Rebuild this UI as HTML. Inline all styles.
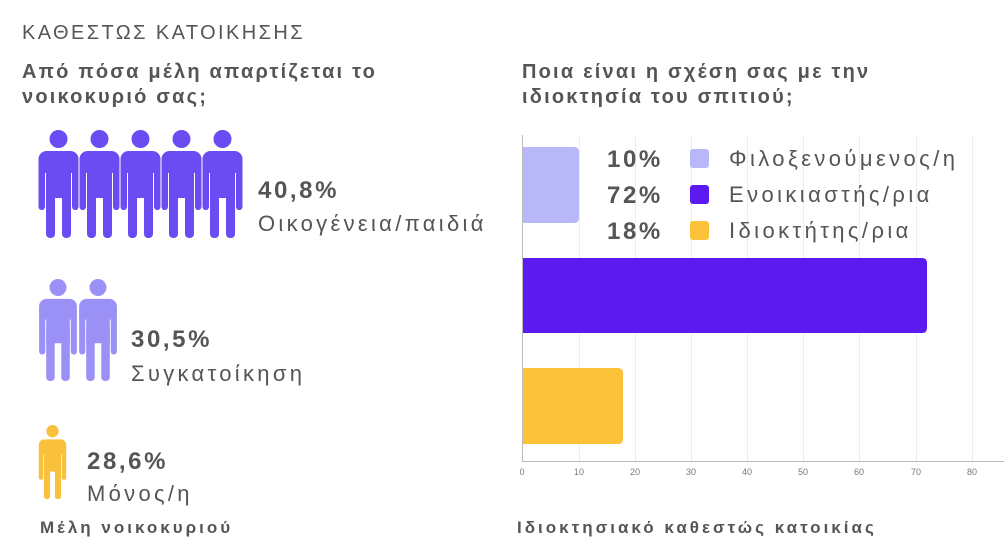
<!DOCTYPE html>
<html><head><meta charset="utf-8"><style>
body{margin:0;width:1004px;height:549px;background:#fff;position:relative;overflow:hidden;font-family:"Liberation Sans","DejaVu Sans",sans-serif;color:#555}
.a{position:absolute;white-space:nowrap}
.h{font-weight:900;font-size:20px;letter-spacing:2.2px;line-height:25px;color:#555}
.pct{font-weight:900;font-size:24px;letter-spacing:2.6px;color:#555}
.lab{font-size:22px;letter-spacing:3.3px;color:#555}
</style></head><body>
<svg width="0" height="0" style="position:absolute">
<defs>
<symbol id="p" viewBox="0 0 40 108">
<circle cx="20" cy="9" r="9"/>
<rect x="0" y="21" width="40" height="22" rx="8"/>
<rect x="0" y="30" width="6.5" height="50" rx="3.2"/>
<rect x="33.5" y="30" width="6.5" height="50" rx="3.2"/>
<rect x="7.5" y="30" width="25" height="38"/>
<rect x="7.5" y="50" width="9" height="58" rx="4"/>
<rect x="23.5" y="50" width="9" height="58" rx="4"/>
</symbol>
</defs></svg>
<div class="a" style="left:22px;top:22px;font-size:20px;letter-spacing:2.4px;color:#555">ΚΑΘΕΣΤΩΣ ΚΑΤΟΙΚΗΣΗΣ</div>
<div class="a h" style="left:22px;top:60px">Από πόσα μέλη απαρτίζεται το<br>νοικοκυριό σας;</div>
<div class="a h" style="left:522px;top:60px">Ποια είναι η σχέση σας με την<br>ιδιοκτησία του σπιτιού;</div>
<svg class="a" style="left:38px;top:130px" width="210" height="110" fill="#6a4cf2">
<use href="#p" x="0" y="0" width="41" height="108"/>
<use href="#p" x="41" y="0" width="41" height="108"/>
<use href="#p" x="82" y="0" width="41" height="108"/>
<use href="#p" x="123" y="0" width="41" height="108"/>
<use href="#p" x="164" y="0" width="41" height="108"/>
</svg>
<div class="a pct" style="left:258px;top:177px">40,8%</div>
<div class="a lab" style="left:258px;top:211px">Οικογένεια/παιδιά</div>
<svg class="a" style="left:38px;top:279px" width="82" height="103" fill="#9a90f5">
<use href="#p" x="0" y="0" width="40" height="102"/>
<use href="#p" x="40" y="0" width="40" height="102"/>
</svg>
<div class="a pct" style="left:131px;top:326px">30,5%</div>
<div class="a lab" style="left:131px;top:361px">Συγκατοίκηση</div>
<svg class="a" style="left:38px;top:425px" width="30" height="75" fill="#f8c03c">
<use href="#p" x="0" y="0" width="29" height="74"/>
</svg>
<div class="a pct" style="left:87px;top:448px">28,6%</div>
<div class="a lab" style="left:87px;top:481px">Μόνος/η</div>
<div class="a" style="left:40px;top:518px;font-weight:900;font-size:17px;letter-spacing:3px;color:#555">Μέλη νοικοκυριού</div>
<div class="a" style="left:517px;top:518px;font-weight:900;font-size:17px;letter-spacing:3px;color:#555">Ιδιοκτησιακό καθεστώς κατοικίας</div>
<svg class="a" style="left:500px;top:130px" width="504" height="350">
<g stroke="#ececec" stroke-width="1">
<line x1="79.5" y1="5" x2="79.5" y2="331"/><line x1="135.5" y1="5" x2="135.5" y2="331"/>
<line x1="191.5" y1="5" x2="191.5" y2="331"/><line x1="247.5" y1="5" x2="247.5" y2="331"/>
<line x1="303.5" y1="5" x2="303.5" y2="331"/><line x1="359.5" y1="5" x2="359.5" y2="331"/>
<line x1="416.5" y1="5" x2="416.5" y2="331"/><line x1="472.5" y1="5" x2="472.5" y2="331"/>
</g>
<line x1="22.5" y1="5" x2="22.5" y2="331" stroke="#bbb"/>
<line x1="22" y1="331.5" x2="504" y2="331.5" stroke="#bbb"/>
<path d="M23 17 H74 Q79 17 79 22 V88 Q79 93 74 93 H23Z" fill="#b8b8f8"/>
<path d="M23 128 H422 Q427 128 427 133 V198 Q427 203 422 203 H23Z" fill="#5a1af0"/>
<path d="M23 238 H118 Q123 238 123 243 V309 Q123 314 118 314 H23Z" fill="#fcc23a"/>
<g font-size="9" fill="#777" text-anchor="middle" font-family="Liberation Sans,sans-serif">
<text x="22" y="345">0</text><text x="79" y="345">10</text><text x="135" y="345">20</text>
<text x="191" y="345">30</text><text x="247" y="345">40</text><text x="303" y="345">50</text>
<text x="359" y="345">60</text><text x="416" y="345">70</text><text x="472" y="345">80</text>
</g>
</svg>
<div class="a pct" style="left:607px;top:146px">10%</div>
<div class="a pct" style="left:607px;top:182px">72%</div>
<div class="a pct" style="left:607px;top:218px">18%</div>
<div class="a" style="left:690px;top:149px;width:19px;height:19px;background:#b8b8f8;border-radius:3px"></div>
<div class="a" style="left:690px;top:185px;width:19px;height:19px;background:#5a1af0;border-radius:3px"></div>
<div class="a" style="left:690px;top:221px;width:19px;height:19px;background:#fcc23a;border-radius:3px"></div>
<div class="a lab" style="left:729px;top:146px;letter-spacing:3.4px">Φιλοξενούμενος/η</div>
<div class="a lab" style="left:729px;top:182px;letter-spacing:3.4px">Ενοικιαστής/ρια</div>
<div class="a lab" style="left:729px;top:218px;letter-spacing:3.4px">Ιδιοκτήτης/ρια</div>
</body></html>
